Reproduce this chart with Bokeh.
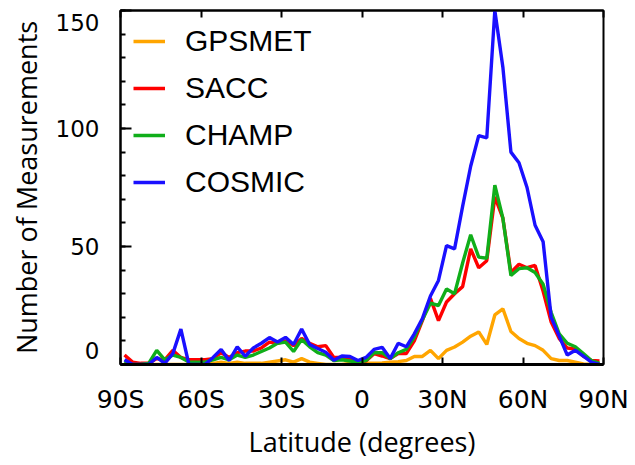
from bokeh.plotting import figure
from bokeh.models import FixedTicker, LinearAxis, Range1d, Legend, LegendItem
from bokeh.embed import file_html
from bokeh.resources import INLINE

# Latitude bin centres (degrees, negative = south)
lat = [-88.5, -85.5, -82.5, -79.5, -76.5, -73.5, -70.5, -67.5, -64.5, -61.5,
       -58.5, -55.5, -52.5, -49.5, -46.5, -43.5, -40.5, -37.5, -34.5, -31.5,
       -28.5, -25.5, -22.5, -19.5, -16.5, -13.5, -10.5, -7.5, -4.5, -1.5,
       1.5, 4.5, 7.5, 10.5, 13.5, 16.5, 19.5, 22.5, 25.5, 28.5,
       31.5, 34.5, 37.5, 40.5, 43.5, 46.5, 49.5, 52.5, 55.5, 58.5,
       61.5, 64.5, 67.5, 70.5, 73.5, 76.5, 79.5, 82.5, 85.5, 88.5]

gpsmet = [0.5, 0, 0, 0, 0, 0, 0, 0, 0, 0,
          0, 0.5, 1, 0.5, 1, 0.5, 0.5, 0.5, 1, 1.5,
          2, 1, 2.5, 1, 0.5, 0, 0, 0, 0.5, 0.5,
          0.5, 0.6, 0.7, 1, 1.2, 1.7, 3.4, 3.4, 6, 2.5,
          6, 7.4, 9.5, 12, 13.8, 8.5, 21, 23.6, 14, 11,
          9, 8, 6, 2.5, 1.7, 1.7, 1, 0.2, 0, 0]

sacc = [4, 1, 0.5, 0.5, 2.5, 2, 6, 3, 2, 2,
        2, 2.5, 5, 3, 5, 5.7, 5.7, 7, 9.5, 9,
        10, 8, 11, 9, 7.5, 8, 3, 3, 2.5, 1.5,
        1.5, 4.6, 3.6, 2.5, 4.6, 4.6, 10, 18.6, 28, 18.6,
        26.5, 30, 33, 49, 41, 44, 71, 62, 39, 42.5,
        41, 42, 31, 18, 11, 7, 6.5, 3.5, 1.7, 1.5]

champ = [1.5, 0, 0, 0.5, 6, 2, 4, 3, 1, 1,
         1, 2, 3, 2, 4, 3, 4, 5.5, 7, 9,
         9.5, 5.5, 10.6, 7.5, 5, 4, 1.7, 2, 1.5, 1,
         1.7, 5, 5, 2.5, 5, 6.4, 11.6, 19, 26, 25,
         32, 30, 43, 55, 45.5, 45, 76, 62, 37.7, 40.6,
         41, 39, 34, 22, 13, 9, 7.5, 4.6, 1.7, 0.5]

cosmic = [2, 0, 0, 0, 3, 0.5, 4.6, 15, 0, 0,
          0, 3, 6.4, 1.7, 7.5, 3.5, 7, 9, 11.4, 9.5,
          11.5, 8.5, 15, 8.5, 6.8, 5.2, 1.8, 3.6, 3.4, 1.7,
          3, 6.4, 7.3, 2.5, 9, 7.5, 13, 19.5, 29, 35.6,
          50.4, 49, 67, 84, 97, 96, 150, 126, 90, 85.5,
          75, 59, 52, 20, 12, 4, 6, 3.5, 1, 0]

series_names = ["GPSMET", "SACC", "CHAMP", "COSMIC"]
series_colors = ["#FFA500", "#FF0000", "#10AE1A", "#1A10FF"]

x_ticks = [-90, -60, -30, 0, 30, 60, 90]
x_tick_labels = ["90S", "60S", "30S", "0", "30N", "60N", "90N"]
y_ticks = [0, 50, 100, 150]
y_minor_ticks = [0, 10, 20, 30, 40, 50, 60, 70, 80, 90, 100, 110, 120, 130, 140, 150]
y_tick_labels = ["0", "50", "100", "150"]
y_label_pos = [6, 50, 100, 145]

p = figure(width=635, height=465, x_range=Range1d(-90, 90), y_range=Range1d(0, 150),
           output_backend="svg", toolbar_location=None,
           x_axis_location=None, y_axis_location=None,
           min_border_left=120, min_border_right=32, min_border_top=10, min_border_bottom=101)
p.grid.visible = False
p.outline_line_color = "black"
p.outline_line_width = 2
p.background_fill_color = "white"
p.border_fill_color = "white"

renderers = []
for name, vals, col in zip(series_names, [gpsmet, sacc, champ, cosmic], series_colors):
    r = p.line(lat, vals, line_color=col, line_width=3.4)
    renderers.append(r)

# bottom axis
xb = LinearAxis(ticker=FixedTicker(ticks=x_ticks, minor_ticks=[]),
                major_label_overrides={t: l for t, l in zip(x_ticks, x_tick_labels)},
                axis_label="Latitude (degrees)")
xb.axis_line_width = 3
xb.axis_line_color = "black"
xb.major_tick_in = 7
xb.major_tick_out = 0
xb.major_tick_line_width = 2
xb.major_tick_line_color = "black"
xb.minor_tick_in = 0
xb.minor_tick_out = 0
xb.major_label_text_font = "DejaVu Sans"
xb.major_label_text_font_size = "25px"
xb.major_label_text_color = "black"
xb.major_label_standoff = 20
xb.axis_label_text_font = "Open Sans"
xb.axis_label_text_font_size = "27px"
xb.axis_label_text_font_style = "normal"
xb.axis_label_text_color = "black"
xb.axis_label_standoff = 6
p.add_layout(xb, "below")

# top axis (tick marks only, no labels)
xt = LinearAxis(ticker=FixedTicker(ticks=x_ticks, minor_ticks=[]))
xt.major_label_text_font_size = "1px"
xt.major_label_text_color = None
xt.major_label_standoff = 0
xt.major_tick_in = 7
xt.major_tick_out = 0
xt.major_tick_line_width = 2
xt.major_tick_line_color = "black"
xt.minor_tick_in = 0
xt.minor_tick_out = 0
xt.axis_line_width = 2
xt.axis_line_color = "black"
p.add_layout(xt, "above")

# left axis: tick marks only
yl = LinearAxis(ticker=FixedTicker(ticks=y_ticks, minor_ticks=y_minor_ticks))
yl.major_label_text_font_size = "1px"
yl.major_label_text_color = None
yl.major_label_standoff = 0
yl.major_tick_in = 11
yl.major_tick_out = 0
yl.major_tick_line_width = 2
yl.major_tick_line_color = "black"
yl.minor_tick_in = 5
yl.minor_tick_out = 0
yl.minor_tick_line_width = 2
yl.minor_tick_line_color = "black"
yl.axis_line_width = 2
yl.axis_line_color = "black"
p.add_layout(yl, "left")

# left axis: tick labels and title
ylab = LinearAxis(ticker=FixedTicker(ticks=y_label_pos, minor_ticks=[]),
                  major_label_overrides={t: l for t, l in zip(y_label_pos, y_tick_labels)},
                  axis_label="Number of Measurements")
ylab.axis_line_color = None
ylab.major_tick_line_color = None
ylab.minor_tick_line_color = None
ylab.major_tick_in = 0
ylab.major_tick_out = 0
ylab.major_label_text_font = "DejaVu Sans"
ylab.major_label_text_font_size = "23px"
ylab.major_label_text_color = "black"
ylab.major_label_standoff = 21
ylab.axis_label_text_font = "Open Sans"
ylab.axis_label_text_font_size = "27px"
ylab.axis_label_text_font_style = "normal"
ylab.axis_label_text_color = "black"
ylab.axis_label_standoff = 8
p.add_layout(ylab, "left")

legend = Legend(items=[LegendItem(label=n, renderers=[r]) for n, r in zip(series_names, renderers)],
                location="top_left")
legend.border_line_color = None
legend.background_fill_alpha = 0
legend.label_text_font = "Liberation Sans"
legend.label_text_font_size = "30px"
legend.label_text_color = "black"
legend.glyph_width = 32
legend.glyph_height = 36
legend.label_height = 36
legend.spacing = 11
legend.padding = 10
legend.margin = 13
legend.label_standoff = 20
p.add_layout(legend)

open("out.html", "w").write(file_html(p, INLINE))
